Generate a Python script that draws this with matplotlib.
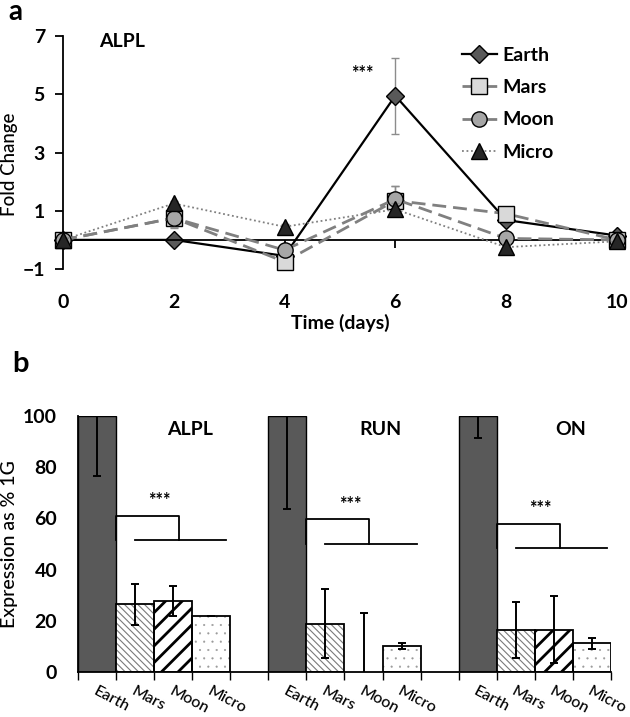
import matplotlib
matplotlib.use('Agg')
import matplotlib.pyplot as plt
import numpy as np
from matplotlib.transforms import ScaledTranslation

plt.rcParams['font.family'] = ['Lato', 'DejaVu Sans']

# ---------------- panel a data ----------------
days = [0, 2, 4, 6, 8, 10]
earth_fc = [0.0, 0.0, -0.55, 4.95, 0.68, 0.15]
earth_err = [0.0, 0.1, 0.1, 1.3, 0.1, 0.05]
mars_fc = [0.0, 0.75, -0.75, 1.35, 0.9, 0.0]
mars_err = [0.0, 0.35, 0.1, 0.5, 0.1, 0.05]
moon_fc = [0.0, 0.75, -0.35, 1.4, 0.05, 0.0]
moon_err = [0.0, 0.3, 0.1, 0.45, 0.1, 0.05]
micro_fc = [0.0, 1.25, 0.45, 1.05, -0.25, -0.05]
micro_err = [0.0, 0.1, 0.1, 0.2, 0.1, 0.05]
yticks_a = [-1, 1, 3, 5, 7]

# ---------------- panel b data ----------------
genes = ['ALPL', 'RUN', 'ON']
conditions = ['Earth', 'Mars', 'Moon', 'Micro']
alpl_pct = [100, 26.5, 27.7, 22.0]
alpl_err = [23.6, 8.0, 6.0, 0.0]
run_pct = [100, 18.8, 0.0, 10.2]
run_err = [36.5, 13.5, 23.0, 1.3]
on_pct = [100, 16.5, 16.5, 11.2]
on_err = [8.7, 11.0, 13.0, 2.2]
yticks_b = [0, 20, 40, 60, 80, 100]
bracket_top = [61.0, 59.6, 58.0]
bracket_low = [51.5, 50.0, 48.6]

fig = plt.figure(figsize=(6.3, 7.17), dpi=100)

# ================= panel a =================
ax1 = fig.add_axes([0.1, 0.6248, 0.879, 0.325])
ax1.set_xlim(0, 10)
ax1.set_ylim(-1, 7)
for s in ['top', 'right']:
    ax1.spines[s].set_visible(False)
ax1.spines['bottom'].set_position(('data', 0))
ax1.spines['bottom'].set_linewidth(1.3)
ax1.spines['left'].set_linewidth(1.3)
ax1.set_xticks(days)
ax1.set_yticks(yticks_a)
ax1.tick_params(axis='x', direction='out', length=6, width=1.3, pad=33,
                labelsize=14)
ax1.tick_params(axis='y', direction='out', length=6, width=1.3, labelsize=14, pad=7)
for lab in ax1.get_xticklabels() + ax1.get_yticklabels():
    lab.set_fontweight('bold')

series = [
    ('Earth', earth_fc, earth_err, dict(color='black', ls='-', lw=1.6, marker='D', ms=9,
                                        mfc='#595959', mec='black', mew=1.0), 2),
    ('Mars', mars_fc, mars_err, dict(color='#808080', ls=(0, (5, 2.5)), lw=2.0, marker='s', ms=11,
                                      mfc='#d9d9d9', mec='black', mew=1.0), 3),
    ('Moon', moon_fc, moon_err, dict(color='#808080', ls=(0, (5, 2.5)), lw=2.0, marker='o', ms=11,
                                      mfc='#a6a6a6', mec='black', mew=1.0), 4),
    ('Micro', micro_fc, micro_err, dict(color='#808080', ls=(0, (1, 1.5)), lw=1.3, marker='^', ms=11,
                                         mfc='#262626', mec='black', mew=1.0), 5),
]
handles = []
for name, vals, err, style, z in series:
    ax1.errorbar(days, vals, yerr=err, fmt='none', ecolor='#8c8c8c', elinewidth=1.0,
                 capsize=3, capthick=1.0, zorder=z - 0.5, clip_on=False)
    h, = ax1.plot(days, vals, label=name, zorder=z, clip_on=False, **style)
    handles.append(h)

ax1.text(0.65, 6.8, 'ALPL', fontsize=14, fontweight='bold', va='center', ha='left')
ax1.text(5.4, 5.72, '***', fontsize=13, fontweight='bold', ha='center', va='center')
ax1.set_ylabel('Fold Change', fontsize=13.5, fontweight='medium')
ax1.yaxis.set_label_coords(-0.082, 0.45)
ax1.set_xlabel('Time (days)', fontsize=14, fontweight='bold', labelpad=2)
leg = ax1.legend(handles=handles, loc='upper left', bbox_to_anchor=(7.2, 6.62),
                 bbox_transform=ax1.transData, frameon=False, fontsize=14,
                 handlelength=1.8, handletextpad=0.3, labelspacing=0.78,
                 borderpad=0, borderaxespad=0)
for t in leg.get_texts():
    t.set_fontweight('bold')

# ================= panel b =================
ax2 = fig.add_axes([0.1238, 0.0628, 0.846, 0.357])
ax2.set_xlim(-0.5, 13.5)
ax2.set_ylim(0, 100)
for s in ['top', 'right']:
    ax2.spines[s].set_visible(False)
ax2.spines['bottom'].set_linewidth(1.3)
ax2.spines['left'].set_linewidth(1.3)

all_pct = [alpl_pct, run_pct, on_pct]
all_err = [alpl_err, run_err, on_err]
hatch_specs = [
    dict(face='#595959', hatch=None, hcolor=None, hlw=1.0),
    dict(face='white', hatch='\\\\\\\\\\', hcolor='#7a7a7a', hlw=0.8),
    dict(face='white', hatch='//', hcolor='black', hlw=2.0),
    dict(face='white', hatch='..', hcolor='#9a9a9a', hlw=0.3),
]
centers = []
labels = []
for g, (pct, err) in enumerate(zip(all_pct, all_err)):
    xs = [g * 5 + c for c in range(len(conditions))]
    for c in range(len(conditions)):
        spec = hatch_specs[c]
        if spec['hatch']:
            with plt.rc_context({'hatch.linewidth': spec['hlw']}):
                b = ax2.bar(xs[c], pct[c], width=1.0, color=spec['face'],
                            edgecolor=spec['hcolor'], linewidth=0, hatch=spec['hatch'], zorder=2)
                for p in b:
                    try:
                        p.set_hatch_linewidth(spec['hlw'])
                    except Exception:
                        pass
            if pct[c] > 0:
                ax2.bar(xs[c], pct[c], width=1.0, fill=False, edgecolor='black', linewidth=1.3, zorder=3)
        else:
            ax2.bar(xs[c], pct[c], width=1.0, color=spec['face'], edgecolor='black',
                    linewidth=1.0, zorder=2)
    ax2.errorbar(xs, pct, yerr=err, fmt='none', ecolor='black', elinewidth=1.4,
                 capsize=3, capthick=1.4, zorder=4)
    centers += xs
    labels += conditions
    base = g * 5
    ax2.plot([base + 0.5, base + 0.5, base + 2.15, base + 2.15],
             [bracket_low[g], bracket_top[g], bracket_top[g], bracket_low[g]],
             color='black', lw=1.3, solid_joinstyle='round', zorder=5)
    ax2.plot([base + 1.0, base + 3.4], [bracket_low[g], bracket_low[g]], color='black', lw=1.3, zorder=5)
    ax2.text(base + 1.65, bracket_top[g] + 5.8, '***', fontsize=13, fontweight='bold',
             ha='center', va='center')
    ax2.text(base + 2.44, 94.7, genes[g], fontsize=14, fontweight='bold', ha='center', va='center')

ax2.set_yticks(yticks_b)
ax2.tick_params(axis='y', length=0, labelsize=14, pad=15)
for lab in ax2.get_yticklabels():
    lab.set_fontweight('bold')
ax2.set_xticks(centers)
ax2.set_xticklabels(labels, rotation=-28, ha='left', va='center', rotation_mode='anchor',
                    fontsize=11.5, fontweight='medium')
ax2.tick_params(axis='x', which='major', length=0, pad=13)
shift = ScaledTranslation(-3 / 100, 0, fig.dpi_scale_trans)
for lab in ax2.get_xticklabels():
    lab.set_transform(lab.get_transform() + shift)
ax2.set_xticks(np.arange(-0.5, 14, 1.0), minor=True)
ax2.tick_params(axis='x', which='minor', direction='out', length=6, width=1.0)
ax2.set_ylabel('Expression as % 1G', fontsize=14, fontweight='medium', labelpad=4)

fig.text(15 / 630, 1 - 20 / 717, 'a', fontsize=20, fontweight='bold', ha='center', va='baseline')
fig.text(20 / 630, 1 - 372 / 717, 'b', fontsize=21, fontweight='bold', ha='center', va='baseline')

fig.savefig('out.png', dpi=100)
